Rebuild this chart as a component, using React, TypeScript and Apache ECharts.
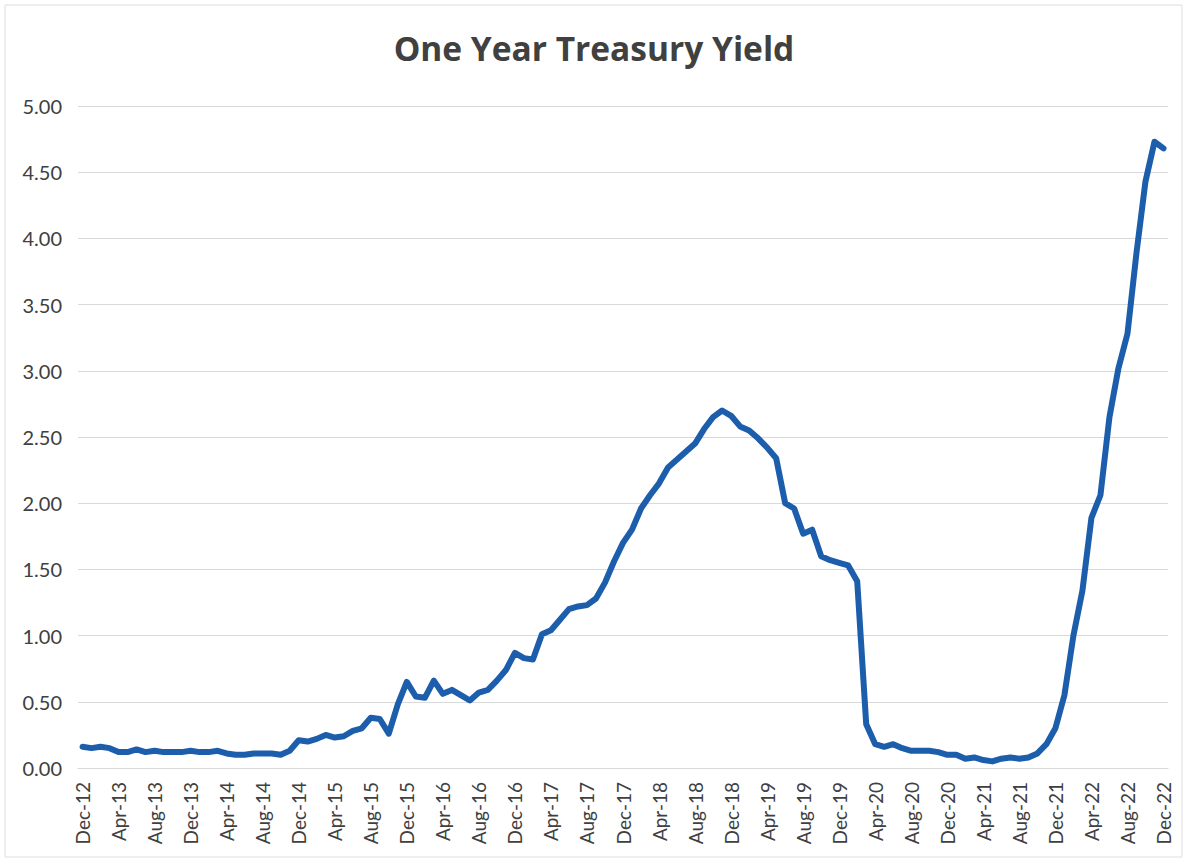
import React, { useEffect, useRef } from "react";
import * as echarts from "echarts";

const categories = [
  "Dec-12",
  "Jan-13", "Feb-13", "Mar-13", "Apr-13", "May-13", "Jun-13", "Jul-13", "Aug-13", "Sep-13", "Oct-13", "Nov-13", "Dec-13",
  "Jan-14", "Feb-14", "Mar-14", "Apr-14", "May-14", "Jun-14", "Jul-14", "Aug-14", "Sep-14", "Oct-14", "Nov-14", "Dec-14",
  "Jan-15", "Feb-15", "Mar-15", "Apr-15", "May-15", "Jun-15", "Jul-15", "Aug-15", "Sep-15", "Oct-15", "Nov-15", "Dec-15",
  "Jan-16", "Feb-16", "Mar-16", "Apr-16", "May-16", "Jun-16", "Jul-16", "Aug-16", "Sep-16", "Oct-16", "Nov-16", "Dec-16",
  "Jan-17", "Feb-17", "Mar-17", "Apr-17", "May-17", "Jun-17", "Jul-17", "Aug-17", "Sep-17", "Oct-17", "Nov-17", "Dec-17",
  "Jan-18", "Feb-18", "Mar-18", "Apr-18", "May-18", "Jun-18", "Jul-18", "Aug-18", "Sep-18", "Oct-18", "Nov-18", "Dec-18",
  "Jan-19", "Feb-19", "Mar-19", "Apr-19", "May-19", "Jun-19", "Jul-19", "Aug-19", "Sep-19", "Oct-19", "Nov-19", "Dec-19",
  "Jan-20", "Feb-20", "Mar-20", "Apr-20", "May-20", "Jun-20", "Jul-20", "Aug-20", "Sep-20", "Oct-20", "Nov-20", "Dec-20",
  "Jan-21", "Feb-21", "Mar-21", "Apr-21", "May-21", "Jun-21", "Jul-21", "Aug-21", "Sep-21", "Oct-21", "Nov-21", "Dec-21",
  "Jan-22", "Feb-22", "Mar-22", "Apr-22", "May-22", "Jun-22", "Jul-22", "Aug-22", "Sep-22", "Oct-22", "Nov-22", "Dec-22",
];

const yield2012 = [0.16];
const yield2013 = [0.15, 0.16, 0.15, 0.12, 0.12, 0.14, 0.12, 0.13, 0.12, 0.12, 0.12, 0.13];
const yield2014 = [0.12, 0.12, 0.13, 0.11, 0.1, 0.1, 0.11, 0.11, 0.11, 0.1, 0.13, 0.21];
const yield2015 = [0.2, 0.22, 0.25, 0.23, 0.24, 0.28, 0.3, 0.38, 0.37, 0.26, 0.48, 0.65];
const yield2016 = [0.54, 0.53, 0.66, 0.56, 0.59, 0.55, 0.51, 0.57, 0.59, 0.66, 0.74, 0.87];
const yield2017 = [0.83, 0.82, 1.01, 1.04, 1.12, 1.2, 1.22, 1.23, 1.28, 1.4, 1.56, 1.7];
const yield2018 = [1.8, 1.96, 2.06, 2.15, 2.27, 2.33, 2.39, 2.45, 2.56, 2.65, 2.7, 2.66];
const yield2019 = [2.58, 2.55, 2.49, 2.42, 2.34, 2.0, 1.96, 1.77, 1.8, 1.6, 1.57, 1.55];
const yield2020 = [1.53, 1.41, 0.33, 0.18, 0.16, 0.18, 0.15, 0.13, 0.13, 0.13, 0.12, 0.1];
const yield2021 = [0.1, 0.07, 0.08, 0.06, 0.05, 0.07, 0.08, 0.07, 0.08, 0.11, 0.18, 0.3];
const yield2022 = [0.55, 1.0, 1.34, 1.89, 2.06, 2.65, 3.02, 3.28, 3.89, 4.43, 4.73, 4.68];

const yAxisMin = 0;
const yAxisMax = 5;
const yAxisStep = 0.5;

const title = "One Year Treasury Yield";

export default function App() {
  const ref = useRef<HTMLDivElement>(null);

  useEffect(() => {
    if (!ref.current) return;
    const chart = echarts.init(ref.current, null, { renderer: "svg" });
    const values = [
      ...yield2012,
      ...yield2013,
      ...yield2014,
      ...yield2015,
      ...yield2016,
      ...yield2017,
      ...yield2018,
      ...yield2019,
      ...yield2020,
      ...yield2021,
      ...yield2022,
    ];
    chart.setOption({
      animation: false,
      backgroundColor: "#ffffff",
      title: {
        text: title,
        left: "center",
        top: 26,
        textStyle: {
          fontFamily: "Open Sans",
          fontWeight: "bold",
          fontSize: 33.5,
          color: "#404040",
        },
      },
      graphic: [
        {
          type: "rect",
          shape: { x: 5, y: 5, width: 1177, height: 852 },
          style: { fill: "none", stroke: "#dedede", lineWidth: 1 },
          silent: true,
        },
      ],
      grid: { left: 78, right: 20, top: 106, bottom: 95, containLabel: false },
      xAxis: {
        type: "category",
        data: categories,
        boundaryGap: true,
        axisLine: { show: true, lineStyle: { color: "#d9d9d9", width: 1 } },
        axisTick: { show: false },
        axisLabel: {
          interval: 3,
          rotate: 90,
          margin: 14,
          fontFamily: "Lato",
          fontSize: 19,
          color: "#404040",
        },
        splitLine: { show: false },
      },
      yAxis: {
        type: "value",
        min: yAxisMin,
        max: yAxisMax,
        interval: yAxisStep,
        axisLine: { show: false },
        axisTick: { show: false },
        axisLabel: {
          margin: 16,
          fontFamily: "Lato",
          fontSize: 20,
          color: "#404040",
          formatter: (v: number) => v.toFixed(2),
        },
        splitLine: { show: true, lineStyle: { color: "#d9d9d9", width: 1 } },
      },
      series: [
        {
          type: "line",
          data: values,
          showSymbol: false,
          symbol: "none",
          smooth: false,
          lineStyle: { color: "#1c5eac", width: 6, cap: "round", join: "round" },
        },
      ],
    });
    return () => chart.dispose();
  }, []);

  return (
    <div
      ref={ref}
      style={{ position: "fixed", left: 0, top: 0, width: 1188, height: 863, background: "#fff" }}
    />
  );
}
